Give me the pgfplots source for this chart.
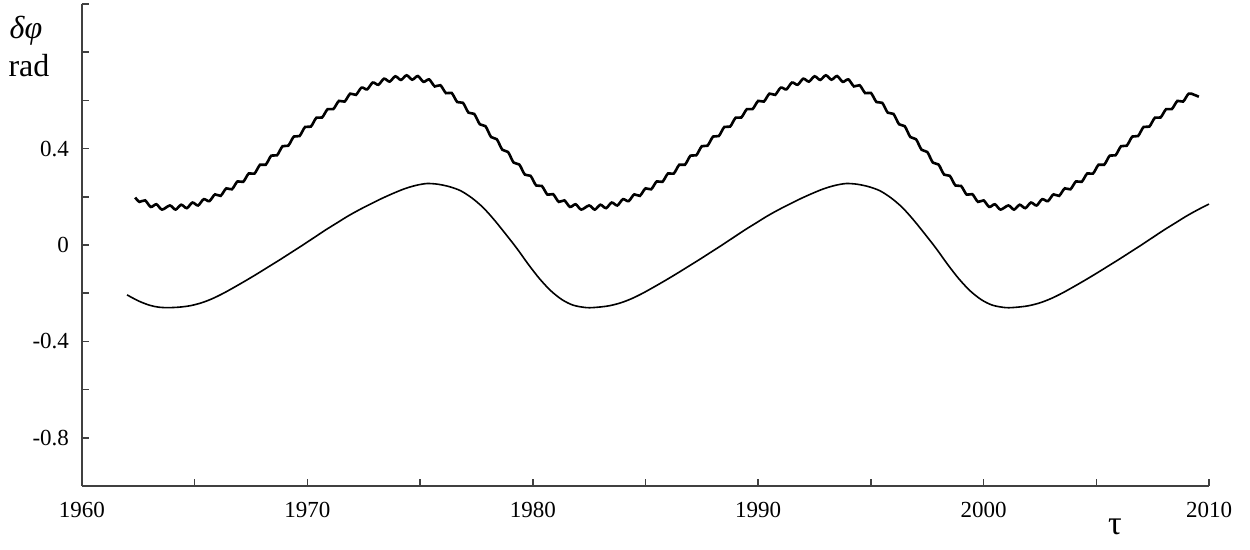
\documentclass[border=0pt]{standalone}
\usepackage{fontspec}
\setmainfont{Liberation Serif}
\usepackage{pgfplots}
\pgfplotsset{compat=1.18}
\usepackage{pgfplotstable}

\pgfplotstableread{
t v
1962.36 0.197
1962.55 0.179
1962.80 0.185
1963.05 0.158
1963.30 0.169
1963.55 0.147
1963.90 0.164
1964.15 0.147
1964.40 0.167
1964.65 0.153
1964.90 0.176
1965.15 0.164
1965.40 0.190
1965.65 0.182
1965.90 0.210
1966.15 0.204
1966.40 0.235
1966.65 0.231
1966.90 0.264
1967.15 0.262
1967.40 0.297
1967.65 0.296
1967.90 0.333
1968.15 0.333
1968.40 0.371
1968.65 0.372
1968.90 0.410
1969.15 0.412
1969.40 0.450
1969.65 0.452
1969.90 0.490
1970.15 0.491
1970.40 0.528
1970.65 0.529
1970.90 0.564
1971.15 0.564
1971.40 0.598
1971.65 0.595
1971.90 0.628
1972.15 0.623
1972.40 0.653
1972.65 0.646
1972.90 0.674
1973.15 0.665
1973.40 0.690
1973.65 0.678
1973.90 0.700
1974.15 0.685
1974.40 0.704
1974.65 0.686
1974.90 0.701
1975.15 0.677
1975.40 0.687
1975.65 0.658
1975.90 0.663
1976.15 0.630
1976.40 0.631
1976.65 0.593
1976.90 0.590
1977.15 0.549
1977.40 0.544
1977.65 0.501
1977.90 0.493
1978.15 0.448
1978.40 0.439
1978.65 0.395
1978.90 0.386
1979.15 0.342
1979.40 0.334
1979.65 0.292
1979.90 0.287
1980.15 0.247
1980.40 0.245
1980.65 0.209
1980.90 0.211
1981.15 0.179
1981.40 0.185
1981.65 0.158
1981.90 0.169
1982.15 0.147
1982.50 0.164
1982.75 0.147
1983.00 0.167
1983.25 0.153
1983.50 0.176
1983.75 0.164
1984.00 0.190
1984.25 0.182
1984.50 0.210
1984.75 0.204
1985.00 0.235
1985.25 0.231
1985.50 0.264
1985.75 0.262
1986.00 0.297
1986.25 0.296
1986.50 0.333
1986.75 0.333
1987.00 0.371
1987.25 0.372
1987.50 0.410
1987.75 0.412
1988.00 0.450
1988.25 0.452
1988.50 0.490
1988.75 0.491
1989.00 0.528
1989.25 0.529
1989.50 0.564
1989.75 0.564
1990.00 0.598
1990.25 0.595
1990.50 0.628
1990.75 0.623
1991.00 0.653
1991.25 0.646
1991.50 0.674
1991.75 0.665
1992.00 0.690
1992.25 0.678
1992.50 0.700
1992.75 0.685
1993.00 0.704
1993.25 0.686
1993.50 0.701
1993.75 0.677
1994.00 0.687
1994.25 0.658
1994.50 0.663
1994.75 0.630
1995.00 0.631
1995.25 0.593
1995.50 0.590
1995.75 0.549
1996.00 0.544
1996.25 0.501
1996.50 0.493
1996.75 0.448
1997.00 0.439
1997.25 0.395
1997.50 0.386
1997.75 0.342
1998.00 0.334
1998.25 0.292
1998.50 0.287
1998.75 0.247
1999.00 0.245
1999.25 0.209
1999.50 0.211
1999.75 0.179
2000.00 0.185
2000.25 0.158
2000.50 0.169
2000.75 0.147
2001.10 0.164
2001.35 0.147
2001.60 0.167
2001.85 0.153
2002.10 0.176
2002.35 0.164
2002.60 0.190
2002.85 0.182
2003.10 0.210
2003.35 0.204
2003.60 0.235
2003.85 0.231
2004.10 0.264
2004.35 0.262
2004.60 0.297
2004.85 0.296
2005.10 0.333
2005.35 0.333
2005.60 0.371
2005.85 0.372
2006.10 0.410
2006.35 0.412
2006.60 0.450
2006.85 0.452
2007.10 0.490
2007.35 0.491
2007.60 0.528
2007.85 0.529
2008.10 0.564
2008.35 0.564
2008.60 0.598
2008.85 0.595
2009.10 0.628
2009.35 0.623
2009.55 0.615
}\uppertab

\pgfplotstableread{
t v
1962.0 -0.207
1962.5 -0.232
1963.0 -0.250
1963.4 -0.258
1963.8 -0.260
1964.3 -0.258
1964.8 -0.252
1965.3 -0.240
1965.8 -0.222
1966.3 -0.199
1966.8 -0.173
1967.3 -0.146
1967.8 -0.118
1968.3 -0.089
1968.8 -0.060
1969.3 -0.030
1969.8 0.000
1970.3 0.031
1970.8 0.062
1971.3 0.091
1971.8 0.120
1972.3 0.146
1972.8 0.170
1973.3 0.193
1973.8 0.214
1974.3 0.233
1974.8 0.247
1975.3 0.255
1975.8 0.252
1976.3 0.242
1976.8 0.225
1977.3 0.195
1977.8 0.155
1978.3 0.103
1978.8 0.045
1979.3 -0.015
1979.8 -0.080
1980.3 -0.140
1980.8 -0.190
1981.3 -0.227
1981.8 -0.250
1982.4 -0.260
1982.9 -0.258
1983.4 -0.252
1983.9 -0.240
1984.4 -0.222
1984.9 -0.199
1985.4 -0.173
1985.9 -0.146
1986.4 -0.118
1986.9 -0.089
1987.4 -0.060
1987.9 -0.030
1988.4 0.000
1988.9 0.031
1989.4 0.062
1989.9 0.091
1990.4 0.120
1990.9 0.146
1991.4 0.170
1991.9 0.193
1992.4 0.214
1992.9 0.233
1993.4 0.247
1993.9 0.255
1994.4 0.252
1994.9 0.242
1995.4 0.225
1995.9 0.195
1996.4 0.155
1996.9 0.103
1997.4 0.045
1997.9 -0.015
1998.4 -0.080
1998.9 -0.140
1999.4 -0.190
1999.9 -0.227
2000.4 -0.250
2001.0 -0.260
2001.5 -0.258
2002.0 -0.252
2002.5 -0.240
2003.0 -0.222
2003.5 -0.199
2004.0 -0.173
2004.5 -0.146
2005.0 -0.118
2005.5 -0.089
2006.0 -0.060
2006.5 -0.030
2007.0 0.000
2007.5 0.031
2008.0 0.062
2008.5 0.091
2009.0 0.120
2009.5 0.146
2010.0 0.170
}\lowertab

\begin{document}
\begin{tikzpicture}
\begin{axis}[
  scale only axis,
  width=563.5pt, height=241pt,
  xmin=1960, xmax=2010, ymin=-1, ymax=1,
  axis x line=bottom, axis y line=left,
  axis line style={-, line width=0.9pt, color=black!75},
  tick style={line width=0.8pt, color=black!75},
  tick align=inside,
  major tick length=3.5pt,
  xtick={1960,1965,1970,1975,1980,1985,1990,1995,2000,2005,2010},
  xticklabels={1960,,1970,,1980,,1990,,2000,,2010},
  ytick={-1,-0.8,-0.6,-0.4,-0.2,0,0.2,0.4,0.6,0.8,1},
  yticklabels={,-0.8,,-0.4,,0,,0.4,,,},
  ticklabel style={font=\fontsize{11.5}{13}\selectfont},
  xticklabel style={yshift=-4.5pt},
  yticklabel style={xshift=-3pt},
  clip=false,
]
\addplot[black, line width=1.3pt, smooth] table[x=t, y=v] {\uppertab};
\addplot[black, line width=0.8pt, smooth] table[x=t, y=v] {\lowertab};
\coordinate (bl) at (rel axis cs:0,0);
\coordinate (tr) at (rel axis cs:1,1);
\node[font=\fontsize{16}{18}\selectfont\itshape] at ([shift={(-28pt,-13.5pt)}]rel axis cs:0,1) {δφ};
\node[font=\fontsize{16}{18}\selectfont] at ([shift={(-26.5pt,-31pt)}]rel axis cs:0,1) {rad};
\node[font=\fontsize{17}{19}\selectfont] at ([shift={(-47pt,-20.5pt)}]rel axis cs:1,0) {τ};
\end{axis}
\pgfresetboundingbox
\path ([shift={(-41pt,-32pt)}]bl) rectangle ([shift={(20.5pt,2pt)}]tr);
\end{tikzpicture}
\end{document}
